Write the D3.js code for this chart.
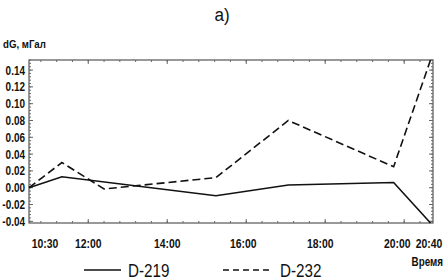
<!DOCTYPE html>
<html>
<head>
<meta charset="utf-8">
<style>
  body { margin: 0; background: #fff; }
  text { font-family: "Liberation Sans", Arial, sans-serif; fill: #111; }
</style>
</head>
<body>
<svg width="447" height="280"></svg>
<script src="https://d3js.org/d3.v7.min.js"></script>
<script>
// data (time as "HH:MM", dG in mGal)
const times219 = ["10:30", "11:20", "15:14", "17:04", "19:44", "20:40"];
const values219 = [0.000, 0.013, -0.0095, 0.0032, 0.0062, -0.042];
const times232 = ["10:30", "11:20", "12:24", "15:14", "17:04", "19:44", "20:40"];
const values232 = [0.000, 0.030, -0.0015, 0.012, 0.080, 0.025, 0.152];
const xTickLabels = ["10:30", "12:00", "14:00", "16:00", "18:00", "20:00", "20:40"];
const yTicks = [-0.04, -0.02, 0, 0.02, 0.04, 0.06, 0.08, 0.10, 0.12, 0.14];
const seriesNames = ["D-219", "D-232"];

const parse = d3.timeParse("%H:%M");
const svg = d3.select("svg");
const m = { left: 29, right: 433, top: 60, bottom: 223 };

const x = d3.scaleTime()
    .domain([parse("10:30"), parse("20:40")])
    .range([m.left, 430.5]);
const y = d3.scaleLinear()
    .domain([-0.042, 0.152])
    .range([m.bottom, m.top]);

// condensed text: scale horizontally around the anchor
function ctext(g, px, py, str, size, sx, anchor, weight) {
    return g.append("text")
        .attr("transform", `translate(${px},${py}) scale(${sx},1)`)
        .attr("text-anchor", anchor || "start")
        .attr("font-size", size)
        .attr("font-weight", weight || "normal")
        .text(str);
}

// frame
svg.append("rect")
    .attr("x", m.left).attr("y", m.top)
    .attr("width", m.right - m.left).attr("height", m.bottom - m.top)
    .attr("fill", "none").attr("stroke", "#555").attr("stroke-width", 1.2);

// minor / major ticks inside the frame
const xMinor = d3.range(0, 11).map(i => d3.timeMinute.offset(parse("10:00"), 24 * i + 24))
    .filter(d => d > parse("10:30") && d < parse("20:40"));
const xMajor = ["12:00", "14:00", "16:00", "18:00", "20:00"].map(parse);
const xAll = d3.range(0, 30).map(i => d3.timeMinute.offset(parse("10:24"), 24 * i))
    .filter(d => d > parse("10:30") && d <= parse("20:40"));
const ticksG = svg.append("g").attr("stroke", "#666").attr("stroke-width", 1);
[[m.bottom, -1], [m.top, 1]].forEach(([y0, dir]) => {
    ticksG.append("g").selectAll("line").data(xAll).join("line")
        .attr("x1", d => x(d)).attr("x2", d => x(d))
        .attr("y1", y0).attr("y2", y0 + 2 * dir);
    ticksG.append("g").selectAll("line").data(xMajor).join("line")
        .attr("x1", d => x(d)).attr("x2", d => x(d))
        .attr("y1", y0).attr("y2", y0 + 4 * dir);
});
const yMinor = d3.range(-0.040, 0.1521, 0.004);
[[m.left, 1], [m.right, -1]].forEach(([x0, dir]) => {
    ticksG.append("g").selectAll("line").data(yMinor).join("line")
        .attr("x1", x0).attr("x2", x0 + 2 * dir)
        .attr("y1", d => y(d)).attr("y2", d => y(d));
    ticksG.append("g").selectAll("line").data(yTicks).join("line")
        .attr("x1", x0).attr("x2", x0 + 4 * dir)
        .attr("y1", d => y(d)).attr("y2", d => y(d));
});

// y labels
const yLab = svg.append("g");
yTicks.forEach(v => {
    ctext(yLab, 25, y(v) + 4.5, d3.format(".2f")(v).replace("−", "-"), 12, 0.83, "end", "bold");
});

// x labels
const labelShift = { "10:30": 16, "12:00": 0, "14:00": 0, "16:00": -3, "18:00": -5, "20:00": -7, "20:40": -1.5 };
const xLab = svg.append("g");
xTickLabels.forEach(t => {
    ctext(xLab, x(parse(t)) + labelShift[t], 247.5, t, 13, 0.8, "middle", "bold");
});

// lines
const line = d3.line().x(d => x(d[0])).y(d => y(d[1]));
const data219 = times219.map((t, i) => [parse(t), values219[i]]);
const data232 = times232.map((t, i) => [parse(t), values232[i]]);
svg.append("path").datum(data219).attr("d", line)
    .attr("fill", "none").attr("stroke", "#111").attr("stroke-width", 1.6);
svg.append("path").datum(data232).attr("d", line)
    .attr("fill", "none").attr("stroke", "#111").attr("stroke-width", 1.6)
    .attr("stroke-dasharray", "8,4");

// titles
ctext(svg, 222, 21, "a)", 19, 0.9, "middle");
ctext(svg, 3, 47.5, "dG, мГал", 11, 0.88, "start", "bold");
ctext(svg, 443, 265.5, "Время", 12, 0.82, "end", "bold");

// legend
const lg = svg.append("g").selectAll("g").data(seriesNames).join("g")
    .attr("transform", (d, i) => `translate(${84 + i * 139},270)`);
lg.append("line").attr("x1", 0).attr("x2", d => d === "D-219" ? 37 : 46)
    .attr("y1", 0).attr("y2", 0)
    .attr("stroke", "#111").attr("stroke-width", 1.6)
    .attr("stroke-dasharray", d => d === "D-232" ? "6,4" : null);
lg.each(function (d) {
    ctext(d3.select(this), d === "D-219" ? 44 : 57, 6.5, d, 19, 0.8, "start");
});
</script>
</body>
</html>
